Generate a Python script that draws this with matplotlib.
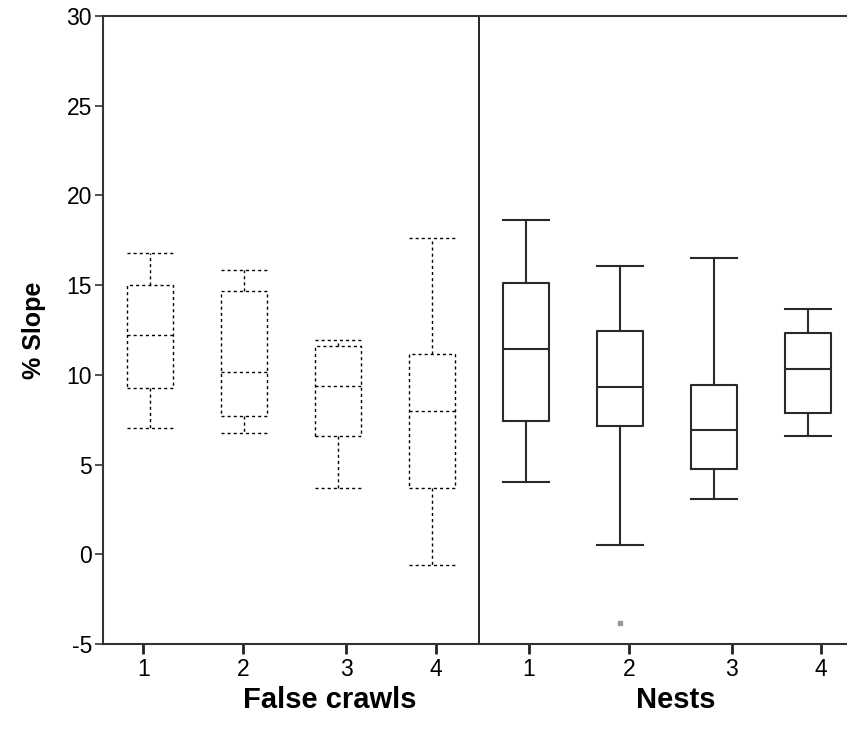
import matplotlib
matplotlib.use("Agg")
import matplotlib.pyplot as plt

plt.rcParams["font.family"] = ["Liberation Sans", "DejaVu Sans"]
plt.rcParams["axes.unicode_minus"] = False

# box statistics (% slope)
groups = ["False crawls", "Nests"]
tick_labels = ["1", "2", "3", "4"]

fc_whislo = [7.05, 6.75, 3.7, -0.6]
fc_q1 = [9.25, 7.7, 6.6, 3.7]
fc_med = [12.2, 10.15, 9.4, 8.0]
fc_q3 = [15.0, 14.65, 11.6, 11.15]
fc_whishi = [16.8, 15.85, 11.95, 17.65]

nest_whislo = [4.05, 0.5, 3.1, 6.6]
nest_q1 = [7.45, 7.15, 4.75, 7.9]
nest_med = [11.45, 9.3, 6.95, 10.3]
nest_q3 = [15.1, 12.45, 9.45, 12.35]
nest_whishi = [18.65, 16.05, 16.5, 13.65]
nest_fliers = [[], [-3.85], [], []]


def stats(lo, q1, med, q3, hi, fl=None):
    out = []
    for i in range(len(lo)):
        out.append(dict(whislo=lo[i], q1=q1[i], med=med[i], q3=q3[i],
                        whishi=hi[i], fliers=fl[i] if fl else []))
    return out


fig = plt.figure(figsize=(8.47, 7.44), dpi=100)
ax = fig.add_axes([103 / 847, 100 / 744, 752 / 847, 628 / 744])

dot = dict(color="black", linestyle=(0, (2.2, 2.2)), linewidth=1.0)
ax.bxp(stats(fc_whislo, fc_q1, fc_med, fc_q3, fc_whishi),
       positions=[1, 2, 3, 4], widths=0.49, capwidths=0.49,
       boxprops=dot, whiskerprops=dot, capprops=dot, medianprops=dot,
       showfliers=False, manage_ticks=False)

solid = dict(color="#2a2a2a", linewidth=1.5)
ax.bxp(stats(nest_whislo, nest_q1, nest_med, nest_q3, nest_whishi, nest_fliers),
       positions=[5, 6, 7, 8], widths=0.49, capwidths=0.49,
       boxprops=solid, whiskerprops=solid, capprops=solid, medianprops=solid,
       flierprops=dict(marker="s", markersize=2.5, markerfacecolor="#999999",
                       markeredgecolor="#999999"),
       manage_ticks=False)

ax.axvline(4.5, color="black", linewidth=1.2)

ax.set_xlim(0.5, 8.5)
ax.set_ylim(-5, 30)
ax.set_yticks(range(-5, 31, 5))
ax.set_xticks([0.93, 1.99, 3.09, 4.04, 5.03, 6.10, 7.19, 8.14])
ax.set_xticklabels(tick_labels * 2)
ax.tick_params(axis="y", labelsize=16.5, length=6, width=1.2, pad=2, color="#333333")
ax.tick_params(axis="x", labelsize=16.5, length=7, width=2, pad=3, color="#222222")

for s in ["left", "bottom", "top"]:
    ax.spines[s].set_linewidth(1.5)
    ax.spines[s].set_color("#333333")
ax.spines["right"].set_visible(False)

ax.set_ylabel("% Slope", fontsize=18, fontweight="bold", labelpad=15)

fig.text(330 / 847, 1 - 700 / 744, groups[0], ha="center", va="center",
         fontsize=21, fontweight="bold")
fig.text(676 / 847, 1 - 700 / 744, groups[1], ha="center", va="center",
         fontsize=21, fontweight="bold")

fig.savefig("out.png", dpi=100)
